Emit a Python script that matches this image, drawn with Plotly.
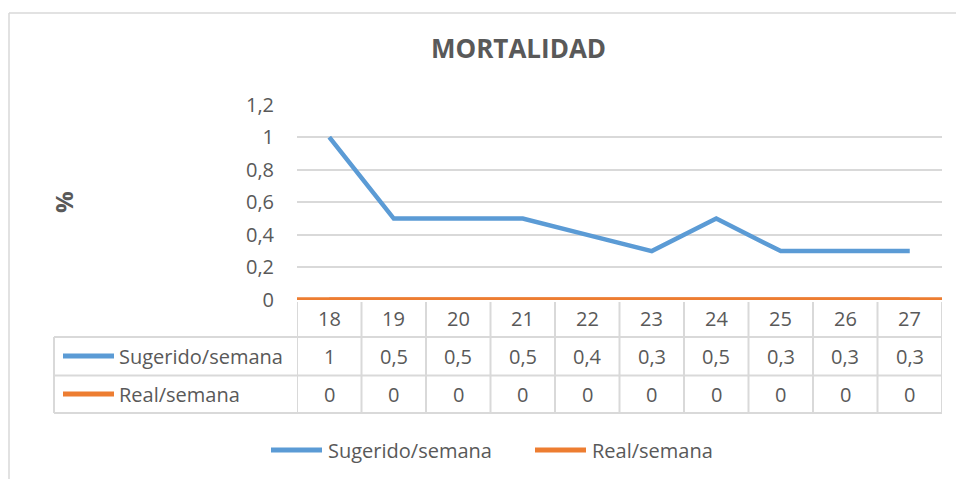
import plotly.graph_objects as go

weeks = ["18", "19", "20", "21", "22", "23", "24", "25", "26", "27"]
sugerido = [1, 0.5, 0.5, 0.5, 0.4, 0.3, 0.5, 0.3, 0.3, 0.3]
real = [0, 0, 0, 0, 0, 0, 0, 0, 0, 0]
series_names = ["Sugerido/semana", "Real/semana"]
series_colors = ["#5b9bd5", "#ed7d31"]
y_ticks = [0, 0.2, 0.4, 0.6, 0.8, 1, 1.2]
title = "MORTALIDAD"
y_title = "%"

W, H = 956, 479
FONT = "Open Sans"
TXT = "#595959"
GRID = "#d9d9d9"


def fmt(v):
    return ("%g" % v).replace(".", ",")


def py(p):  # pixel y -> paper y
    return 1 - p / H


def px(p):
    return p / W


x_left, x_right = 297, 942
y_top, y_bot = 104.5, 300

fig = go.Figure()
xs = list(range(len(weeks)))
fig.add_trace(go.Scatter(x=xs, y=sugerido, mode="lines", name=series_names[0],
                         line=dict(color=series_colors[0], width=4.5), showlegend=False,
                         cliponaxis=False))
fig.add_trace(go.Scatter(x=xs, y=real, mode="lines", name=series_names[1],
                         line=dict(color=series_colors[1], width=5), showlegend=False,
                         cliponaxis=False))

shapes = []
annotations = []


def ann(x, y, text, size, xref="paper", xanchor="center", angle=0):
    annotations.append(dict(x=x, y=y, xref=xref, yref="paper", text=text, showarrow=False,
                            xanchor=xanchor, yanchor="middle", textangle=angle,
                            font=dict(size=size, color=TXT, family=FONT)))


# outer chart border (top and left edges visible)
shapes.append(dict(type="line", xref="paper", yref="paper", x0=px(9), x1=1,
                   y0=py(13), y1=py(13), line=dict(color=GRID, width=1.5)))
shapes.append(dict(type="line", xref="paper", yref="paper", x0=px(9), x1=px(9),
                   y0=py(13), y1=0, line=dict(color=GRID, width=1.5)))

# orange baseline across full plot width
shapes.append(dict(type="line", xref="x", yref="y", x0=-0.5, x1=len(weeks) - 0.5,
                   y0=0, y1=0, line=dict(color=series_colors[1], width=5.5), layer="above"))

row_lines = [337, 375.5, 413]
for yl in row_lines:
    shapes.append(dict(type="line", xref="x", yref="paper", x0=-0.5, x1=len(weeks) - 0.5,
                       y0=py(yl), y1=py(yl), line=dict(color=GRID, width=2)))
    shapes.append(dict(type="line", xref="paper", yref="paper", x0=px(54), x1=px(x_left),
                       y0=py(yl), y1=py(yl), line=dict(color=GRID, width=2)))
for i in range(len(weeks) + 1):
    shapes.append(dict(type="line", xref="x", yref="paper", x0=i - 0.5, x1=i - 0.5,
                       y0=py(302), y1=py(413), line=dict(color=GRID, width=2)))
shapes.append(dict(type="line", xref="paper", yref="paper", x0=px(54), x1=px(54),
                   y0=py(337), y1=py(413), line=dict(color=GRID, width=2)))

row_centers = [318, 356, 394]
for i, w in enumerate(weeks):
    ann(i, py(row_centers[0]), w, 20, xref="x")
    ann(i, py(row_centers[1]), fmt(sugerido[i]), 20, xref="x")
    ann(i, py(row_centers[2]), fmt(real[i]), 20, xref="x")

for k in range(2):
    yc = row_centers[k + 1]
    shapes.append(dict(type="line", xref="paper", yref="paper", x0=px(63), x1=px(114),
                       y0=py(yc), y1=py(yc), line=dict(color=series_colors[k], width=5)))
    ann(px(117), py(yc), series_names[k], 20, xanchor="left")

leg = [(271, 322, 326), (535, 586, 590)]
for k in range(2):
    a, b, t = leg[k]
    shapes.append(dict(type="line", xref="paper", yref="paper", x0=px(a), x1=px(b),
                       y0=py(450), y1=py(450), line=dict(color=series_colors[k], width=5)))
    ann(px(t), py(450), series_names[k], 20, xanchor="left")

ann(px(518), py(48), "<b>%s</b>" % title, 26)
ann(px(64), py(202), "<b>%s</b>" % y_title, 24, angle=-90)

fig.update_layout(
    width=W, height=H,
    margin=dict(l=0, r=0, t=0, b=0, autoexpand=False),
    paper_bgcolor="white", plot_bgcolor="white",
    xaxis=dict(domain=[px(x_left), px(x_right)], range=[-0.5, len(weeks) - 0.5],
               showgrid=False, zeroline=False, showticklabels=False, ticks="", showline=False,
               automargin=False, fixedrange=True),
    yaxis=dict(domain=[py(y_bot), py(y_top)], range=[0, 1.2],
               tickvals=y_ticks, ticktext=[fmt(v) for v in y_ticks],
               showgrid=True, gridcolor=GRID, gridwidth=1.5, zeroline=False,
               showline=False, ticks="", ticklabelstandoff=22, automargin=False,
               tickfont=dict(size=20, color=TXT, family=FONT), fixedrange=True),
    shapes=shapes,
    annotations=annotations,
    showlegend=False,
)

fig.write_html("out.html", config={"displayModeBar": False},
               post_script="document.body.style.margin='0';")
